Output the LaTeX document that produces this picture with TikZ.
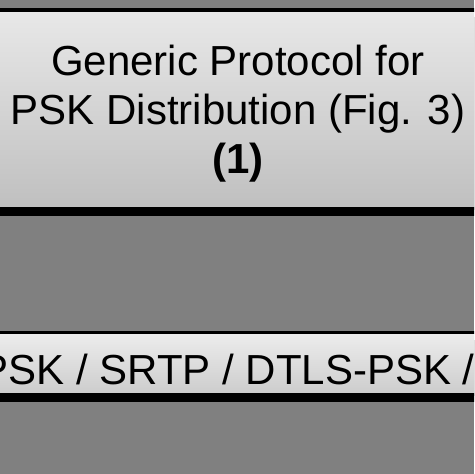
\documentclass[tikz,border=0pt]{standalone}
\usepackage{fontspec}
\setmainfont{Liberation Sans}
\usetikzlibrary{shadows}
\definecolor{bggray}{RGB}{128,128,128}
\tikzstyle{layer} = [rectangle, draw=black, minimum width=270pt, top color=black!9, bottom color=black!25]
\tikzstyle{layertext} = [font={\fontsize{21}{24.3}\selectfont}, text=black, inner sep=0pt]

\begin{document}
\begin{tikzpicture}[x=0.5pt, y=-0.5pt]%
				\clip (0,0) rectangle (474,474);
				\fill[bggray] (0,0) rectangle (474,474);
				% protocol box with its label
				\node [layer, line width=1.75pt, minimum height=99.25pt,
					drop shadow={shadow xshift=0pt, shadow yshift=-3.5pt, fill=black, opacity=1}] (proto) at (237,109.5) {};
				\node [layertext, align=center] (protolabel) at (238,113.6) {Generic Protocol for\\PSK Distribution (Fig. 3)\\\textbf{(1)}};
				% key usage box
				\node [layer, line width=1.5pt, minimum height=31pt, top color=black!7, bottom color=black!20,
					drop shadow={shadow xshift=0pt, shadow yshift=-3.75pt, fill=black, opacity=1}] (psk) at (237,363.5) {};
				\node [layertext, anchor=base west] (psklabel) at (-20,384) {PSK / SRTP / DTLS-PSK /};
	\end{tikzpicture}
\end{document}
